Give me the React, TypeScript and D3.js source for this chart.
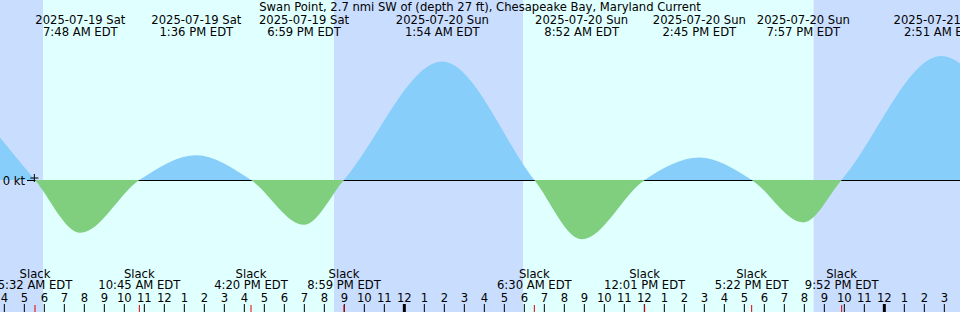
import React from "react";
import * as d3 from "d3";

const title = "Swan Point, 2.7 nmi SW of (depth 27 ft), Chesapeake Bay, Maryland Current";

const maxTimes = [
  "2025-07-19 07:48", "2025-07-19 13:36", "2025-07-19 18:59", "2025-07-20 01:54",
  "2025-07-20 08:52", "2025-07-20 14:45", "2025-07-20 19:57", "2025-07-21 02:51",
];
const maxValues = [-0.66, 0.31, -0.56, 1.48, -0.74, 0.28, -0.53, 1.55];

const slackTimes = [
  "2025-07-19 05:32", "2025-07-19 10:45", "2025-07-19 16:20", "2025-07-19 20:59",
  "2025-07-20 06:30", "2025-07-20 12:01", "2025-07-20 17:22", "2025-07-20 21:52",
];

// events just outside the visible window
const edgeTimes = ["2025-07-19 01:00", "2025-07-21 07:20"];
const edgeValues = [1.40, 0];

const sunriseTimes = ["2025-07-19 05:56", "2025-07-20 05:57"];
const sunsetTimes = ["2025-07-19 20:29", "2025-07-20 20:27"];

const windowStart = "2025-07-19 03:47";
const windowEnd = "2025-07-21 03:47";
const markerTime = "2025-07-19 05:30";

const W = 960, H = 312;
const FONT = "DejaVu Sans, sans-serif";

const parse = d3.timeParse("%Y-%m-%d %H:%M");

export default function App() {
  const x = d3.scaleTime().domain([parse(windowStart)!, parse(windowEnd)!]).range([0, W]);
  const y = d3.scaleLinear().domain([0, 1]).range([180, 100]);

  const pts: [Date, number][] = [];
  edgeTimes.forEach((t, i) => pts.push([parse(t)!, edgeValues[i]]));
  maxTimes.forEach((t, i) => pts.push([parse(t)!, maxValues[i]]));
  slackTimes.forEach((t) => pts.push([parse(t)!, 0]));
  pts.sort((a, b) => +a[0] - +b[0]);

  const curveArea = d3.area<[Date, number]>()
    .x((d) => x(d[0]))
    .y0(y(0))
    .y1((d) => y(d[1]))
    .curve(d3.curveMonotoneX);

  const nights: [number, number][] = [
    [0, x(parse(sunriseTimes[0])!)],
    [x(parse(sunsetTimes[0])!), x(parse(sunriseTimes[1])!)],
    [x(parse(sunsetTimes[1])!), W],
  ];
  const days: [number, number][] = [
    [x(parse(sunriseTimes[0])!), x(parse(sunsetTimes[0])!)],
    [x(parse(sunriseTimes[1])!), x(parse(sunsetTimes[1])!)],
  ];

  const hours = d3.timeHour.range(parse(windowStart)!, parse(windowEnd)!);
  const fmtHour = d3.timeFormat("%-I");
  const fmtDate = d3.timeFormat("%Y-%m-%d %a");
  const fmtTime = d3.timeFormat("%-I:%M %p EDT");

  const y0 = y(0);
  const mx = x(parse(markerTime)!);

  return (
    <svg width={W} height={H} style={{ position: "absolute", left: 0, top: 0, display: "block" }}
      fontFamily={FONT} fontSize={11.6}>
      <defs>
        <clipPath id="above"><rect x={0} y={0} width={W} height={y0} /></clipPath>
        <clipPath id="below"><rect x={0} y={y0} width={W} height={H - y0} /></clipPath>
      </defs>
      {nights.map((n, i) => (
        <rect key={"n" + i} x={n[0]} y={0} width={n[1] - n[0]} height={H} fill="#c9ddff" />
      ))}
      {days.map((d, i) => (
        <rect key={"d" + i} x={d[0]} y={0} width={d[1] - d[0]} height={H} fill="#e0ffff" />
      ))}
      <line x1={27} x2={W} y1={y0 + 0.5} y2={y0 + 0.5} stroke="#000" strokeWidth={1.2} />
      <path d={curveArea(pts) || ""} fill="#87cefa" clipPath="url(#above)" />
      <path d={curveArea(pts) || ""} fill="#7fcf7f" clipPath="url(#below)" />
      <text x={25} y={y0 + 5} textAnchor="end" fill="#000">0 kt</text>
      <line x1={mx - 4} x2={mx + 4} y1={178} y2={178} stroke="#000" />
      <line x1={mx} x2={mx} y1={174} y2={182} stroke="#000" />

      <text x={W / 2} y={11} textAnchor="middle" fill="#000">{title}</text>
      {maxTimes.map((t, i) => {
        const d = parse(t)!;
        return (
          <g key={"m" + i}>
            <text x={x(d)} y={24} textAnchor="middle">{fmtDate(d)}</text>
            <text x={x(d)} y={36} textAnchor="middle">{fmtTime(d)}</text>
          </g>
        );
      })}
      {slackTimes.map((t, i) => {
        const d = parse(t)!;
        return (
          <g key={"s" + i}>
            <text x={x(d)} y={278} textAnchor="middle">Slack</text>
            <text x={x(d)} y={289} textAnchor="middle">{fmtTime(d)}</text>
          </g>
        );
      })}
      {hours.map((h, i) => {
        const hx = x(h);
        const mid = h.getHours() === 0;
        return (
          <g key={"h" + i}>
            <line x1={hx} x2={hx} y1={304} y2={H} stroke="#000" strokeWidth={mid ? 3 : 1} />
            <text x={hx} y={302} textAnchor="middle">{fmtHour(h)}</text>
          </g>
        );
      })}
      {slackTimes.map((t, i) => {
        const sx = x(parse(t)!);
        return <line key={"r" + i} x1={sx} x2={sx} y1={305} y2={H} stroke="#e00000" strokeWidth={1} />;
      })}
    </svg>
  );
}
